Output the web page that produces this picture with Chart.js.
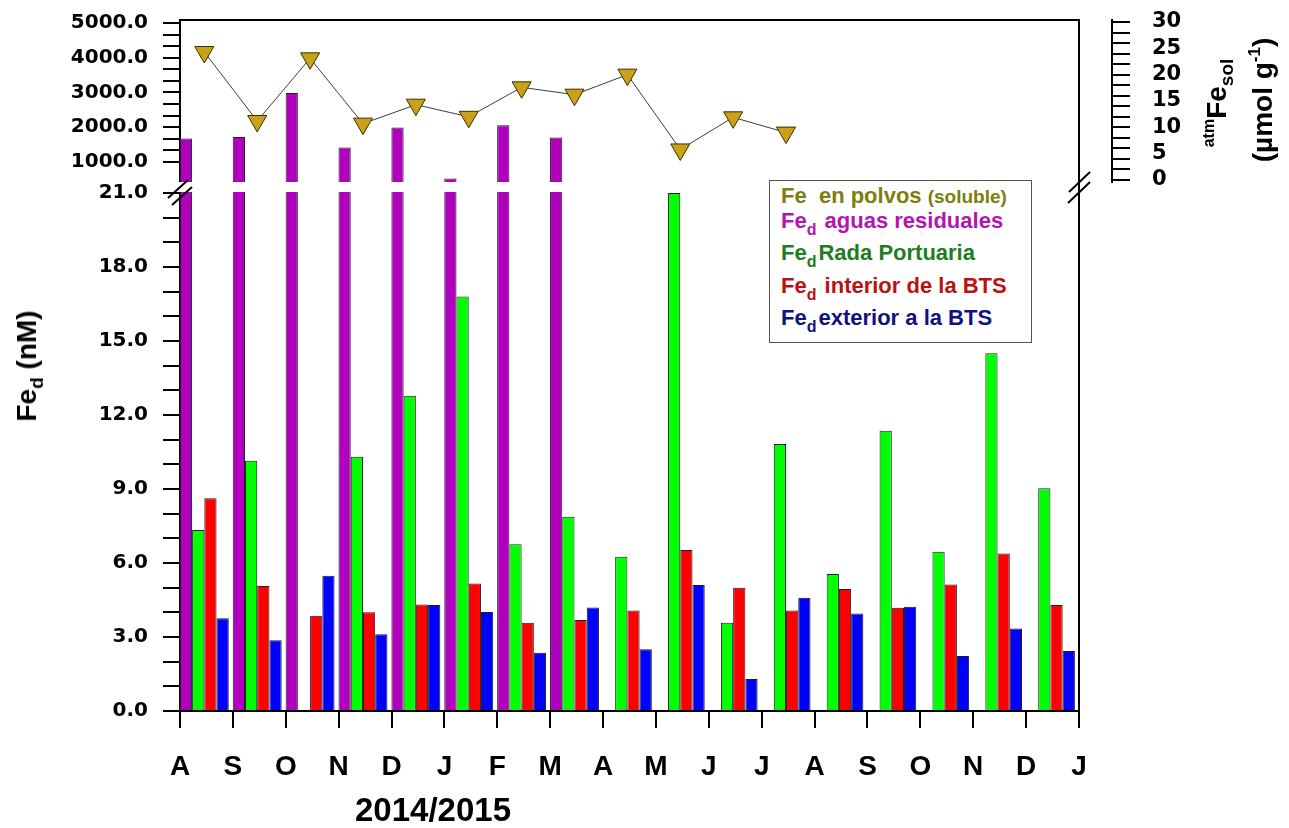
<!DOCTYPE html>
<html>
<head>
<meta charset="utf-8">
<title>Fe disuelto 2014/2015</title>
<script src="https://cdn.jsdelivr.net/npm/chart.js@4.4.1/dist/chart.umd.min.js"></script>
<style>
    body { margin: 0; background: #fff; }
    #wrap { position: relative; width: 1289px; height: 828px; font-family: "Liberation Sans", Arial, sans-serif; font-weight: bold; }
    #chart { position: absolute; left: 0; top: 0; }
    .lbl { position: absolute; white-space: nowrap; color: #000; }
    .rot { transform: translate(-50%, -50%) rotate(-90deg); }
    #yTitle { left: 27px; top: 366px; font-size: 28px; }
    #yTitle sub { font-size: 19px; vertical-align: -7px; line-height: 0; }
    #xTitle { left: 433px; top: 810px; transform: translate(-50%, -50%); font-size: 33px; }
    #rTitle1 { left: 1216px; top: 103px; font-size: 28px; }
    #rTitle1 .pre { font-size: 16px; vertical-align: 12px; }
    #rTitle1 sub { font-size: 19px; vertical-align: -7px; line-height: 0; }
    #rTitle2 { left: 1263px; top: 100px; font-size: 28px; }
    #rTitle2 sup { font-size: 17px; vertical-align: 12px; line-height: 0; }
    #legend { position: absolute; left: 769px; top: 180px; width: 261px; height: 161px; border: 1px solid #555; background: #fff; }
    #legend .row { position: absolute; left: 11px; font-size: 22px; line-height: 22px; white-space: nowrap; }
    #legend .row sub { font-size: 16px; vertical-align: -7px; line-height: 0; margin-right: 2px; }
    #legend .small { font-size: 19px; }
</style>
</head>
<body>
<div id="wrap">
    <canvas id="chart" width="1289" height="828"></canvas>
    <div class="lbl rot" id="yTitle">Fe<sub>d</sub> (nM)</div>
    <div class="lbl" id="xTitle">2014/2015</div>
    <div class="lbl rot" id="rTitle1"><span class="pre">atm</span>Fe<sub>sol</sub></div>
    <div class="lbl rot" id="rTitle2">(µmol g<sup>-1</sup>)</div>
    <div id="legend">
        <div class="row" style="top:4px;color:#7f7d0b">Fe&nbsp;&nbsp;en polvos <span class="small">(soluble)</span></div>
        <div class="row" style="top:29px;color:#b315b3">Fe<sub>d</sub> aguas residuales</div>
        <div class="row" style="top:61px;color:#1f7d1f">Fe<sub>d</sub>Rada Portuaria</div>
        <div class="row" style="top:94px;color:#bb1111">Fe<sub>d</sub> interior de la BTS</div>
        <div class="row" style="top:126px;color:#111180">Fe<sub>d</sub>exterior a la BTS</div>
    </div>
</div>
<script>
// month letters sit on the boundaries between sampling months (Aug 2014 .. Jan 2016)
const monthTicks = ['A', 'S', 'O', 'N', 'D', 'J', 'F', 'M', 'A', 'M', 'J', 'J', 'A', 'S', 'O', 'N', 'D', 'J'];
const sampleMonths = ['2014-08', '2014-09', '2014-10', '2014-11', '2014-12', '2015-01', '2015-02', '2015-03',
    '2015-04', '2015-05', '2015-06', '2015-07', '2015-08', '2015-09', '2015-10', '2015-11', '2015-12'];

// soluble Fe in atmospheric dust (umol/g), right axis
const dustFe = [24.3, 11.2, 23.1, 10.7, 14.3, 12.0, 17.6, 16.2, 20.0, 5.8, 11.9, 9.0];
// dissolved Fe (nM)
const sewageFe = [1673, 1719, 2986, 1414, 1990, 522, 2056, 1702, null, null, null, null, null, null, null, null, null];
const radaFe = [7.34, 10.15, null, 10.31, 12.78, 16.8, 6.76, 7.88, 6.25, 21.0, 3.58, 10.82, 5.55, 11.36, 6.46, 14.5, 9.03];
const interiorFe = [8.62, 5.07, 3.86, 4.0, 4.32, 5.17, 3.58, 3.69, 4.07, 6.53, 5.0, 4.07, 4.95, 4.19, 5.13, 6.39, 4.30];
const exteriorFe = [3.76, 2.87, 5.48, 3.11, 4.30, 4.01, 2.36, 4.20, 2.50, 5.11, 1.30, 4.59, 3.95, 4.23, 2.23, 3.34, 2.43];

// axis tick values
const topLabels = [1000, 2000, 3000, 4000, 5000];
const bottomLabels = [0, 3, 6, 9, 12, 15, 18, 21];
const rightLabels = [0, 5, 10, 15, 20, 25, 30];

const topTicks = [];
for (let k = 12; k >= 0; k--) topTicks.push(5000 - k * 1000 / 3);
const bottomTicks = [];
for (let v = 0; v <= 21; v++) bottomTicks.push(v);
const rightTicks = [];
for (let v = 0; v <= 30; v++) if (v % 2 === 0 || v % 5 === 0) rightTicks.push(v);

const slot = 0.46;
const pts = arr => arr.map((v, i) => ({ x: i + slot, y: v }));

const tickFont = { family: 'DejaVu Sans', size: 20, weight: 'bold' };

// tick label padding must not push the plot area down
const noLabelPadding = s => { s.paddingTop = 0; s.paddingBottom = 0; };

// white gap between the two panels, the plot frame and the break marks
const panelBreak = {
    id: 'panelBreak',
    afterDraw(chart) {
        const { ctx, chartArea: a, scales } = chart;
        const gapTop = scales.yTop.bottom;
        const gapBot = scales.yBot.getPixelForValue(21) - 1;
        ctx.save();
        ctx.fillStyle = '#fff';
        ctx.fillRect(a.left - 3, gapTop, a.right - a.left + 2, gapBot - gapTop);
        ctx.strokeStyle = '#000';
        ctx.lineWidth = 2;
        ctx.beginPath();
        ctx.moveTo(a.left, a.top);
        ctx.lineTo(a.right, a.top);
        ctx.lineTo(a.right, a.bottom);
        ctx.stroke();
        const slash = (x1, y1, x2, y2) => { ctx.beginPath(); ctx.moveTo(x1, y1); ctx.lineTo(x2, y2); ctx.stroke(); };
        slash(a.left - 12, gapTop + 16, a.left + 8, gapTop - 2);
        slash(a.left - 8, gapTop + 23, a.left + 12, gapTop + 5);
        slash(a.right - 10, gapTop + 10, a.right + 11, gapTop - 10);
        slash(a.right - 11, gapTop + 21, a.right + 11, gapTop);
        ctx.restore();
    }
};

// the dust axis stands a little apart from the frame
const shiftRightAxis = {
    id: 'shiftRightAxis',
    afterLayout(chart) {
        const s = chart.scales.yR;
        s.left += 33;
        s.right += 33;
    }
};

const barBase = { borderColor: '#1e1e1e', borderWidth: 1, categoryPercentage: 0.925, barPercentage: 1, clip: 0, order: 1, xAxisID: 'x' };

new Chart(document.getElementById('chart'), {
    type: 'bar',
    data: {
        datasets: [
            {
                type: 'line', label: 'Fe en polvos (soluble)', data: pts(dustFe), xAxisID: 'x', yAxisID: 'yR', order: 0,
                borderColor: '#3c3c3c', borderWidth: 1, tension: 0, clip: false,
                pointStyle: 'triangle', rotation: 180, pointRadius: 11, pointHoverRadius: 11,
                pointBackgroundColor: '#c9a21a', pointBorderColor: '#3a2e00', pointBorderWidth: 1
            },
            { ...barBase, label: 'Fed aguas residuales', data: pts(sewageFe), yAxisID: 'yTop', stack: 'sew', backgroundColor: '#b000bd', borderSkipped: false },
            { ...barBase, label: 'Fed aguas residuales', data: pts(sewageFe), yAxisID: 'yBot', stack: 'sew', backgroundColor: '#b000bd' },
            { ...barBase, label: 'Fed Rada Portuaria', data: pts(radaFe), yAxisID: 'yBot', stack: 'rada', backgroundColor: '#00ff00' },
            { ...barBase, label: 'Fed interior de la BTS', data: pts(interiorFe), yAxisID: 'yBot', stack: 'int', backgroundColor: '#ff0000' },
            { ...barBase, label: 'Fed exterior a la BTS', data: pts(exteriorFe), yAxisID: 'yBot', stack: 'ext', backgroundColor: '#0000ff' }
        ]
    },
    options: {
        responsive: false,
        animation: false,
        layout: { padding: { top: 20, left: 0, right: 0, bottom: 0 } },
        plugins: { legend: { display: false }, tooltip: { enabled: false } },
        scales: {
            x: {
                type: 'linear', position: 'bottom', min: 0, max: 17, offset: false, z: 1,
                afterFit: s => { s.height = 117; },
                afterBuildTicks: s => { s.ticks = monthTicks.map((m, i) => ({ value: i })); },
                ticks: {
                    autoSkip: false, maxRotation: 0, padding: 22, color: '#000',
                    font: { family: 'Liberation Sans', size: 28, weight: 'bold' },
                    callback: (v, i) => monthTicks[i]
                },
                grid: { offset: false, drawOnChartArea: false, tickLength: 17, color: '#000', lineWidth: 2 },
                border: { color: '#000', width: 2 }
            },
            yTop: {
                type: 'linear', position: 'left', stack: 'left', stackWeight: 162, weight: 2,
                min: 424, max: 5086, stacked: false, z: 1,
                afterFit: s => { s.width = 180; noLabelPadding(s); },
                afterBuildTicks: s => { s.ticks = topTicks.map(v => ({ value: v })); },
                ticks: {
                    autoSkip: false, padding: 15, color: '#000', font: tickFont,
                    callback: v => topLabels.includes(Math.round(v)) ? Math.round(v).toFixed(1) : ''
                },
                grid: { drawOnChartArea: false, tickLength: 17, color: '#000', lineWidth: 2 },
                border: { color: '#000', width: 2 }
            },
            yBot: {
                type: 'linear', position: 'left', stack: 'left', stackWeight: 529, weight: 1,
                min: 0, max: 21.446, stacked: false, z: 1,
                afterFit: s => { s.width = 180; noLabelPadding(s); },
                afterBuildTicks: s => { s.ticks = bottomTicks.map(v => ({ value: v })); },
                ticks: {
                    autoSkip: false, padding: 15, color: '#000', font: tickFont,
                    callback: v => bottomLabels.includes(v) ? v.toFixed(1) : ''
                },
                grid: { drawOnChartArea: false, tickLength: 17, color: '#000', lineWidth: 2 },
                border: { color: '#000', width: 2 }
            },
            yR: {
                type: 'linear', position: 'right', stack: 'right', stackWeight: 162, weight: 1,
                min: -0.38, max: 30.38, z: 1,
                afterFit: s => { s.width = 210; noLabelPadding(s); },
                afterBuildTicks: s => { s.ticks = rightTicks.map(v => ({ value: v })); },
                ticks: {
                    autoSkip: false, padding: 22, color: '#000', font: { family: 'DejaVu Sans', size: 21, weight: 'bold' },
                    callback: v => rightLabels.includes(v) ? String(v) : ''
                },
                grid: {
                    drawOnChartArea: false, tickLength: 18, lineWidth: 2,
                    color: c => (c.tick && c.tick.value % 2 === 0) ? '#000' : 'rgba(0,0,0,0)'
                },
                border: { color: '#000', width: 2 }
            },
            yRb: {
                type: 'linear', position: 'right', stack: 'right', stackWeight: 529, weight: 2,
                afterFit: s => { s.width = 210; noLabelPadding(s); },
                ticks: { display: false },
                grid: { display: false },
                border: { display: false }
            }
        }
    },
    plugins: [panelBreak, shiftRightAxis]
});
</script>
</body>
</html>
